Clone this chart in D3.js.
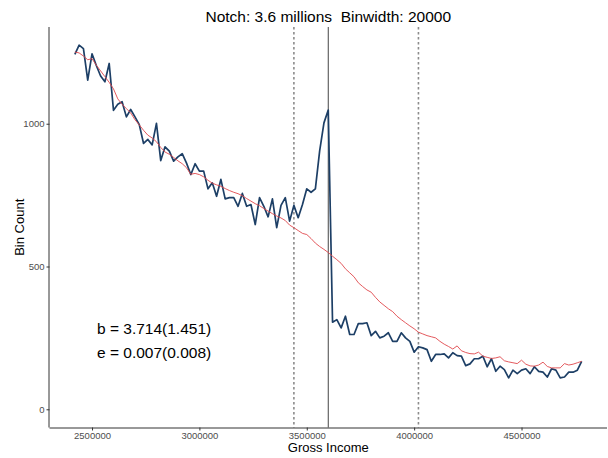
<!DOCTYPE html>
<html>
<head>
<meta charset="utf-8">
<script src="https://cdn.jsdelivr.net/npm/d3@7"></script>
<style>
  body { margin: 0; background: #fff; }
  .axis text { font-family: "Liberation Sans", Arial, sans-serif; font-size: 9.5px; fill: #4d4d4d; }
  .axis path, .axis line { stroke: #333; }
</style>
</head>
<body>
<div id="chart"></div>
<script>
var binStart = 2420000;
var binWidth = 20000;
var notch = 3600000;
var lowerBound = 3440000;
var upperBound = 4020000;

var binCounts = [
  1243, 1275, 1263, 1153, 1245, 1204, 1167, 1147, 1211, 1047,
  1068, 1077, 1024, 1050, 1024, 997, 931, 945, 926, 1001,
  871, 919, 904, 869, 884, 895, 862, 822, 860, 834,
  834, 772, 793, 746, 805, 737, 741, 741, 711, 756,
  711, 717, 647, 741, 711, 674, 737, 636, 714, 741,
  659, 714, 671, 717, 772, 760, 772, 905, 1003, 1048,
  305, 314, 285, 326, 262, 262, 300, 300, 303, 258,
  273, 250, 256, 268, 238, 238, 268, 250, 238, 200,
  219, 215, 209, 168, 192, 192, 194, 180, 198, 188,
  186, 153, 159, 177, 177, 186, 149, 177, 133, 151,
  139, 110, 137, 125, 137, 142, 125, 149, 133, 130,
  113, 142, 137, 110, 113, 130, 130, 137, 168
];

var counterfactual = [
  1251, 1248, 1237, 1224, 1228, 1205, 1185, 1165, 1145, 1122,
  1087, 1068, 1053, 1038, 1014, 996, 977, 960, 950, 937,
  917, 901, 893, 882, 870, 860, 846, 823, 826, 822,
  814, 802, 792, 786, 781, 773, 766, 760, 755, 748,
  738, 729, 720, 713, 703, 694, 685, 677, 670, 661,
  645, 636, 626, 616, 612, 598, 582, 570, 560, 549,
  536, 524, 511, 492, 478, 464, 443, 430, 418, 410,
  392, 376, 364, 352, 342, 326, 314, 303, 292, 282,
  270, 264, 258, 254, 250, 238, 228, 220, 211, 222,
  205, 199, 195, 194, 200, 186, 182, 178, 180, 184,
  170, 166, 163, 160, 172, 158, 152, 151, 155, 165,
  150, 145, 145, 145, 160, 155, 158, 163, 168
];

var xTicks = [2500000, 3000000, 3500000, 4000000, 4500000];
var yTicks = [0, 500, 1000];
var titleText = "Notch: 3.6 millions  Binwidth: 20000";
var estimates = ["b = 3.714(1.451)", "e = 0.007(0.008)"];

function init() {
  var w = 608;
  var h = 458;
  var left = 49.5;
  var right = 607;
  var top = 27;
  var bottom = 427.5;

  var bins = binCounts.map(function(d, i) {
    return { x: binStart + i * binWidth, count: d, cf: counterfactual[i] };
  });

  var xMin = d3.min(bins, function(d) { return d.x; });
  var xMax = d3.max(bins, function(d) { return d.x; });
  var xPad = (xMax - xMin) * 0.05;
  var yMax = d3.max(bins, function(d) { return d.count; });
  var yPad = yMax * 0.05;

  var xScale = d3.scaleLinear()
    .domain([xMin - xPad, xMax + xPad])
    .range([left, right]);

  var yScale = d3.scaleLinear()
    .domain([-yPad, yMax + yPad])
    .range([bottom, top]);

  var svg = d3.select("#chart")
    .append("svg")
    .attr("width", w)
    .attr("height", h);

  // bounds and notch
  svg.selectAll("line.bound")
    .data([lowerBound, upperBound])
    .enter()
    .append("line")
    .attr("class", "bound")
    .attr("x1", function(d) { return xScale(d); })
    .attr("x2", function(d) { return xScale(d); })
    .attr("y1", top)
    .attr("y2", bottom)
    .attr("stroke", "#8c8c8c")
    .attr("stroke-width", 1.6)
    .attr("stroke-dasharray", "2.5,2.5");

  svg.append("line")
    .attr("x1", xScale(notch))
    .attr("x2", xScale(notch))
    .attr("y1", top)
    .attr("y2", bottom)
    .attr("stroke", "#444")
    .attr("stroke-width", 1);

  var countLine = d3.line()
    .x(function(d) { return xScale(d.x); })
    .y(function(d) { return yScale(d.count); });

  var cfLine = d3.line()
    .x(function(d) { return xScale(d.x); })
    .y(function(d) { return yScale(d.cf); });

  svg.append("path")
    .datum(bins)
    .attr("d", countLine)
    .attr("fill", "none")
    .attr("stroke", "#1d3f66")
    .attr("stroke-width", 1.7)
    .attr("stroke-linejoin", "round");

  svg.append("path")
    .datum(bins)
    .attr("d", cfLine)
    .attr("fill", "none")
    .attr("stroke", "#e0474c")
    .attr("stroke-width", 0.9);

  var xAxis = d3.axisBottom(xScale)
    .tickValues(xTicks)
    .tickSize(3)
    .tickPadding(2)
    .tickFormat(d3.format("d"));
  var yAxis = d3.axisLeft(yScale)
    .tickValues(yTicks)
    .tickSize(3)
    .tickPadding(2)
    .tickFormat(d3.format("d"));

  svg.append("g")
    .attr("class", "axis")
    .attr("transform", "translate(0," + bottom + ")")
    .call(xAxis)
    .call(function(g) { g.select(".domain").attr("d", "M" + left + ",0.5H" + right); });
  svg.append("g")
    .attr("class", "axis")
    .attr("transform", "translate(" + left + ",0)")
    .call(yAxis)
    .call(function(g) { g.select(".domain").attr("d", "M-0.5," + top + "V" + bottom); });

  svg.append("text")
    .attr("x", (left + right) / 2)
    .attr("y", 22)
    .attr("text-anchor", "middle")
    .attr("font-family", "Liberation Sans, Arial, sans-serif")
    .attr("font-size", "15.5px")
    .attr("fill", "#000")
    .style("white-space", "pre")
    .text(titleText);

  svg.append("text")
    .attr("x", (left + right) / 2)
    .attr("y", 452)
    .attr("text-anchor", "middle")
    .attr("font-family", "Liberation Sans, Arial, sans-serif")
    .attr("font-size", "13px")
    .attr("fill", "#000")
    .text("Gross Income");

  svg.append("text")
    .attr("transform", "translate(24," + (top + bottom) / 2 + ") rotate(-90)")
    .attr("text-anchor", "middle")
    .attr("font-family", "Liberation Sans, Arial, sans-serif")
    .attr("font-size", "13px")
    .attr("fill", "#000")
    .text("Bin Count");

  svg.selectAll("text.est")
    .data(estimates)
    .enter()
    .append("text")
    .attr("class", "est")
    .attr("x", 97)
    .attr("y", function(d, i) { return 334 + i * 23.5; })
    .attr("font-family", "Liberation Sans, Arial, sans-serif")
    .attr("font-size", "15.5px")
    .attr("fill", "#000")
    .text(function(d) { return d; });
}

window.onload = init;
</script>
</body>
</html>
